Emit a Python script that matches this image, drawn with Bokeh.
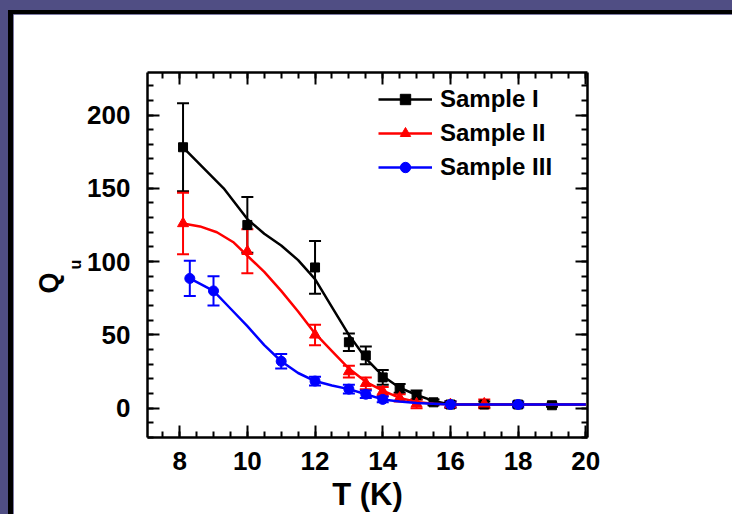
from bokeh.plotting import figure
from bokeh.models import (ColumnDataSource, Whisker, TeeHead, LinearAxis, Legend, LegendItem,
                          Title, Range1d, SingleIntervalTicker)
from bokeh.layouts import column
from bokeh.embed import file_html
from bokeh.resources import INLINE

# ---- data ----
T1 = [8.1, 10, 12, 13, 13.5, 14, 14.5, 15, 15.5, 16, 17, 18, 19]
Q1 = [178, 125, 96, 45, 36, 21, 13.5, 9, 4, 2.5, 2.5, 2.5, 2]
E1 = [30, 19, 18, 6, 6, 5, 3, 3, 2, 2, 2, 1.5, 1]

T2 = [8.1, 10, 12, 13, 13.5, 14, 14.5, 15, 16, 17]
Q2 = [126, 107, 50, 25, 17, 11.5, 7, 3, 2.5, 3]
E2 = [21, 15, 7, 4, 4, 3, 2.5, 3, 2, 3]

T3 = [8.3, 9, 11, 12, 13, 13.5, 14, 16, 18]
Q3 = [88.5, 80, 32, 18.5, 13, 9.5, 6, 2.5, 2.5]
E3 = [12, 10, 5, 3, 3, 2.5, 2, 2, 2]

# fitted curves as drawn in the picture
FT1 = [8.1, 8.7, 9.3, 10, 10.5, 11, 11.5, 12, 12.5, 13, 13.5, 14, 14.5, 15, 15.5, 16, 20]
FQ1 = [178, 164, 150, 129, 119, 111, 101, 88, 69, 50, 34, 22, 14, 9, 5, 2.5, 2.5]
FT2 = [8.1, 8.6, 9.1, 9.6, 10, 10.5, 11, 11.5, 12, 12.5, 13, 13.5, 14, 14.5, 15, 15.5, 16, 20]
FQ2 = [126, 124, 120, 113, 104, 93, 80, 66, 51, 39, 27, 18, 12, 7, 4.3, 3, 2.5, 2.5]
FT3 = [8.3, 9, 9.5, 10, 10.5, 11, 11.5, 12, 12.5, 13, 13.5, 14, 14.5, 15, 16, 20]
FQ3 = [88.5, 80, 68, 56, 43, 32, 24, 18.5, 15.5, 13, 9.5, 6, 4.5, 3.5, 2.5, 2.5]

labels = ["Sample I", "Sample II", "Sample III"]

FONT = "Liberation Sans"

p = figure(width=724, height=504, output_backend="svg", toolbar_location=None,
           x_range=Range1d(7.05, 20.05), y_range=Range1d(-20, 229),
           min_border_left=134, min_border_right=150, min_border_top=58, min_border_bottom=81)
p.styles = {"border-left": "5px solid black", "border-top": "4px solid black"}
p.background_fill_color = "white"
p.border_fill_color = "white"
p.outline_line_color = None
p.grid.visible = False

series = [
    (T1, Q1, E1, FT1, FQ1, "black", "square", 9),
    (T2, Q2, E2, FT2, FQ2, "#ff0000", "triangle", 11),
    (T3, Q3, E3, FT3, FQ3, "#0000ff", "circle", 10),
]
items = []
for i, (T, Q, E, FT, FQ, col, mk, sz) in enumerate(series):
    src = ColumnDataSource(dict(x=T, y=Q, up=[q + e for q, e in zip(Q, E)],
                                lo=[q - e for q, e in zip(Q, E)]))
    ln = p.line(FT, FQ, line_color=col, line_width=2.5)
    w = Whisker(source=src, base="x", upper="up", lower="lo", dimension="height",
                line_color=col, line_width=2,
                upper_head=TeeHead(size=12, line_color=col, line_width=2),
                lower_head=TeeHead(size=12, line_color=col, line_width=2))
    p.add_layout(w)
    sc = p.scatter("x", "y", source=src, marker=mk, size=sz, fill_color=col, line_color=col)
    items.append(LegendItem(label=labels[i], renderers=[ln, sc]))

legend = Legend(items=items, location=(231, 256), glyph_width=54, glyph_height=26,
                label_height=26, spacing=6, padding=0, margin=0, label_standoff=8,
                border_line_color=None, background_fill_alpha=0,
                label_text_font=FONT, label_text_font_style="bold",
                label_text_font_size="24px", label_text_color="black")
p.add_layout(legend, "center")

def style_axis(ax, show_labels):
    ax.axis_line_width = 2.5
    ax.axis_line_color = "black"
    ax.major_tick_in = 12
    ax.major_tick_out = 0
    ax.minor_tick_in = 6
    ax.minor_tick_out = 0
    ax.major_tick_line_width = 2
    ax.minor_tick_line_width = 2
    ax.major_tick_line_color = "black"
    ax.minor_tick_line_color = "black"
    if show_labels:
        ax.major_label_text_font = FONT
        ax.major_label_text_font_style = "bold"
        ax.major_label_text_font_size = "26px"
        ax.major_label_text_color = "black"
    else:
        ax.major_label_text_font_size = "0px"
        ax.major_label_text_alpha = 0

p.xaxis.ticker = SingleIntervalTicker(interval=2, num_minor_ticks=4)
p.yaxis.ticker = SingleIntervalTicker(interval=50, num_minor_ticks=5)
style_axis(p.xaxis[0], True)
style_axis(p.yaxis[0], True)
p.xaxis.major_label_standoff = 14
p.yaxis.major_label_standoff = 17
p.xaxis.axis_label = "T (K)"
p.xaxis.axis_label_text_font = FONT
p.xaxis.axis_label_text_font_style = "bold"
p.xaxis.axis_label_text_font_size = "31px"
p.xaxis.axis_label_text_color = "black"
p.xaxis.axis_label_standoff = 4

top = LinearAxis(ticker=SingleIntervalTicker(interval=2, num_minor_ticks=4))
style_axis(top, False)
p.add_layout(top, "above")
right = LinearAxis(ticker=SingleIntervalTicker(interval=50, num_minor_ticks=5))
style_axis(right, False)
p.add_layout(right, "right")

# y-axis title "Q" with subscript "u"
p.add_layout(Title(text="u", align="left", offset=168, standoff=2,
                   text_font=FONT, text_font_style="bold", text_font_size="16px",
                   text_color="black"), "left")
p.add_layout(Title(text="Q", align="left", offset=144, standoff=0,
                   text_font=FONT, text_font_style="bold", text_font_size="27px",
                   text_color="black"), "left")

layout = column(p, styles={"background-color": "#504e84", "padding-top": "10px",
                           "padding-left": "8px"})

open("out.html", "w").write(file_html(layout, INLINE))
